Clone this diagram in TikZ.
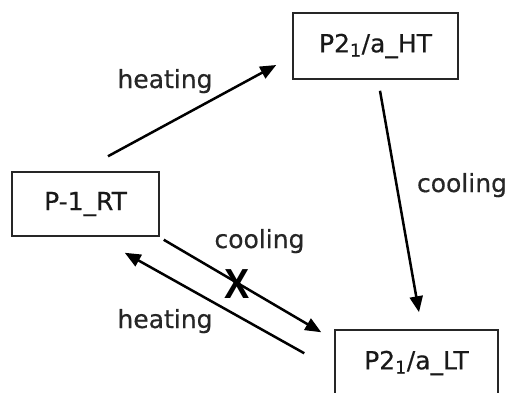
\documentclass[tikz,border=0pt]{standalone}
\usepackage{fontspec}
\setmainfont{DejaVu Sans}
\newfontfamily\lblfont{DejaVu Sans}[FakeBold=0.4]
\newfontfamily\xfont{Liberation Sans}
\usetikzlibrary{arrows.meta}
\tikzset{
  phasebox/.style={draw=black!85, line width=1.5pt, inner sep=0pt, font=\lblfont\fontsize{25}{28}\selectfont, text=black!90},
  arr/.style={line width=2.5pt, -{Triangle[length=16pt,width=13pt]}},
  lbl/.style={font=\lblfont\fontsize{25}{28}\selectfont, anchor=base, inner sep=0pt, text=black!85}
}
\begin{document}
\begin{tikzpicture}[x=1pt,y=-1pt]
\useasboundingbox (0,0) rectangle (511,392);
\clip (0,0) rectangle (511,392);
\fill[white] (0,0) rectangle (511,392);
\node[phasebox, minimum width=165pt, minimum height=66pt] (ht) at (375.5,46) {P2\textsubscript{1}/a\_HT};
\node[phasebox, minimum width=147pt, minimum height=64pt] (rt) at (85.5,204) {P-1\_RT};
\node[phasebox, minimum width=163pt, minimum height=66pt] (lt) at (416.5,363) {P2\textsubscript{1}/a\_LT};
\draw[arr] ([xshift=22.5pt,yshift=15pt]rt.north) -- ([xshift=-16pt,yshift=-19pt]ht.west);
\draw[arr] ([xshift=4.5pt,yshift=-11pt]ht.south) -- ([xshift=2.5pt,yshift=17pt]lt.north);
\draw[arr] ([xshift=4pt,yshift=-3pt]rt.south east) -- ([xshift=-13pt,yshift=-3pt]lt.north west);
\draw[arr] ([xshift=-30pt,yshift=-24pt]lt.north west) -- ([xshift=-35pt,yshift=-16pt]rt.south east);
\node[lbl] (l1) at (165,88) {heating};
\node[lbl] (l2) at (462,192) {cooling};
\node[lbl] (l3) at (259.5,248) {cooling};
\node[lbl] (l4) at (165,328) {heating};
\node[inner sep=0pt, font=\xfont\bfseries\fontsize{42}{44}\selectfont, xscale=0.9] (x) at (237,284) {X};
\end{tikzpicture}
\end{document}
